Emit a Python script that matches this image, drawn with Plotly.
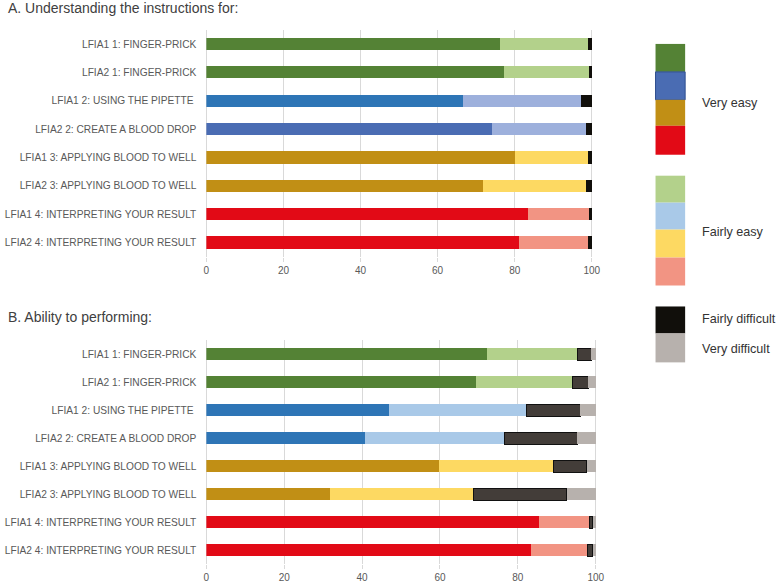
import plotly.graph_objects as go

categories = [
    "LFIA1 1: FINGER-PRICK",
    "LFIA2 1: FINGER-PRICK",
    "LFIA1 2: USING THE PIPETTE ",
    "LFIA2 2: CREATE A BLOOD DROP",
    "LFIA1 3: APPLYING BLOOD TO WELL",
    "LFIA2 3: APPLYING BLOOD TO WELL",
    "LFIA1 4: INTERPRETING YOUR RESULT",
    "LFIA2 4: INTERPRETING YOUR RESULT",
]
x_ticks = [0, 20, 40, 60, 80, 100]

# Panel A: Understanding the instructions (%)
a_very_easy = [76.3, 77.3, 66.5, 74.1, 80.1, 71.9, 83.5, 81.1]
a_fairly_easy = [22.8, 21.9, 30.8, 24.3, 18.8, 26.5, 15.9, 17.8]
a_fairly_difficult = [0.9, 0.8, 2.7, 1.6, 1.1, 1.6, 0.6, 1.1]
a_very_difficult = [0, 0, 0, 0, 0, 0, 0, 0]

# Panel B: Ability to performing (%)
b_very_easy = [72.0, 69.3, 46.8, 40.8, 59.7, 31.7, 85.4, 83.5]
b_fairly_easy = [23.2, 24.7, 35.3, 35.7, 29.5, 37.0, 13.0, 14.4]
b_fairly_difficult = [3.6, 4.1, 13.9, 18.8, 8.5, 23.9, 0.9, 1.3]
b_very_difficult = [1.2, 1.9, 4.0, 4.7, 2.3, 7.4, 0.7, 0.8]

GREEN, LGREEN = "#548235", "#b3d18b"
BLUE, BLUE2, LBLUE_A, LBLUE_B = "#2e75b6", "#4a6cb3", "#9db0dc", "#a9c9e8"
GOLD, YELLOW = "#c18f15", "#fdd962"
RED, SALMON = "#e20a16", "#f29483"
BLACK, DGREY, GREY = "#110f0b", "#433d39", "#b7b1ad"

a_dark_colors = [GREEN, GREEN, BLUE, BLUE2, GOLD, GOLD, RED, RED]
a_light_colors = [LGREEN, LGREEN, LBLUE_A, LBLUE_A, YELLOW, YELLOW, SALMON, SALMON]
b_dark_colors = [GREEN, GREEN, BLUE, BLUE, GOLD, GOLD, RED, RED]
b_light_colors = [LGREEN, LGREEN, LBLUE_B, LBLUE_B, YELLOW, YELLOW, SALMON, SALMON]

W, H = 780, 583
fig = go.Figure()

def add_panel(xa, ya, vals, dark_cols, light_cols, fd_color, fd_line):
    ve, fe, fd, vd = vals
    common = dict(y=categories, orientation="h", width=0.43, xaxis=xa, yaxis=ya,
                  showlegend=False, hoverinfo="x+y")
    fig.add_trace(go.Bar(x=ve, name="Very easy", marker=dict(color=dark_cols, line=dict(width=0)), **common))
    fig.add_trace(go.Bar(x=fe, name="Fairly easy", marker=dict(color=light_cols, line=dict(width=0)), **common))
    fig.add_trace(go.Bar(x=fd, name="Fairly difficult",
                         marker=dict(color=fd_color, line=dict(width=fd_line, color="#111111")), **common))
    fig.add_trace(go.Bar(x=vd, name="Very difficult", marker=dict(color=GREY, line=dict(width=0)), **common))

add_panel("x", "y", (a_very_easy, a_fairly_easy, a_fairly_difficult, a_very_difficult),
          a_dark_colors, a_light_colors, BLACK, 0)
add_panel("x2", "y2", (b_very_easy, b_fairly_easy, b_fairly_difficult, b_very_difficult),
          b_dark_colors, b_light_colors, DGREY, 1)

tickfont = dict(family="Liberation Sans, Arial, sans-serif", size=10, color="#595959")
ytickfont = dict(family="Liberation Sans, Arial, sans-serif", size=10.2, color="#595959")
xcommon = dict(range=[0, 100.4], tickvals=x_ticks, showgrid=True, gridcolor="#d9d9d9", gridwidth=1,
               zeroline=True, zerolinecolor="#d9d9d9", zerolinewidth=1, showline=False,
               ticks="outside", ticklen=4, tickcolor="#d9d9d9", tickfont=tickfont, fixedrange=True)
ycommon = dict(autorange="reversed", showgrid=False, zeroline=False, showline=False,
               ticks="", tickfont=ytickfont, ticklabelstandoff=9, fixedrange=True)

fig.update_layout(
    width=W, height=H,
    margin=dict(l=0, r=0, t=0, b=0),
    paper_bgcolor="white", plot_bgcolor="white",
    barmode="stack",
    xaxis=dict(domain=[206 / W, 598 / W], anchor="y", **xcommon),
    yaxis=dict(domain=[1 - 257.2 / H, 1 - 29.8 / H], anchor="x", **ycommon),
    xaxis2=dict(domain=[206 / W, 602 / W], anchor="y2", **xcommon),
    yaxis2=dict(domain=[1 - 565 / H, 1 - 341 / H], anchor="x2", **ycommon),
)

titlefont = dict(family="Liberation Sans, Arial, sans-serif", size=14, color="#404040")
fig.add_annotation(text="A. Understanding the instructions for:", xref="paper", yref="paper",
                   x=3 / W, y=1 - 8 / H, xanchor="left", yanchor="middle", showarrow=False, font=titlefont)
fig.add_annotation(text="B. Ability to performing:", xref="paper", yref="paper",
                   x=3 / W, y=1 - 318 / H, xanchor="left", yanchor="middle", showarrow=False, font=titlefont)

# Custom legend (stacked colour swatches)
legend_boxes = [
    (44, 72, GREEN), (72, 100, BLUE2), (100, 126, GOLD), (126, 155, RED),
    (176, 203, LGREEN), (203, 230, LBLUE_B), (230, 258, YELLOW), (258, 286, SALMON),
    (307, 334, BLACK), (334, 363, GREY),
]
for y0, y1, c in legend_boxes:
    fig.add_shape(type="rect", xref="paper", yref="paper",
                  x0=661 / W, x1=691 / W, y0=1 - y1 / H, y1=1 - y0 / H,
                  fillcolor=c, line=dict(width=1 if c == BLUE2 else 0, color="#2f4f8f"))
legfont = dict(family="Liberation Sans, Arial, sans-serif", size=12.6, color="#333333")
for label, yc in [("Very easy", 102.7), ("Fairly easy", 232.7),
                  ("Fairly difficult", 319.3), ("Very difficult", 350)]:
    fig.add_annotation(text=label, xref="paper", yref="paper", x=706 / W, y=1 - yc / H,
                       xanchor="left", yanchor="middle", showarrow=False, font=legfont)

fig.write_html("out.html", config={"displayModeBar": False},
               post_script="document.body.style.margin='0';document.body.style.overflow='hidden';")
